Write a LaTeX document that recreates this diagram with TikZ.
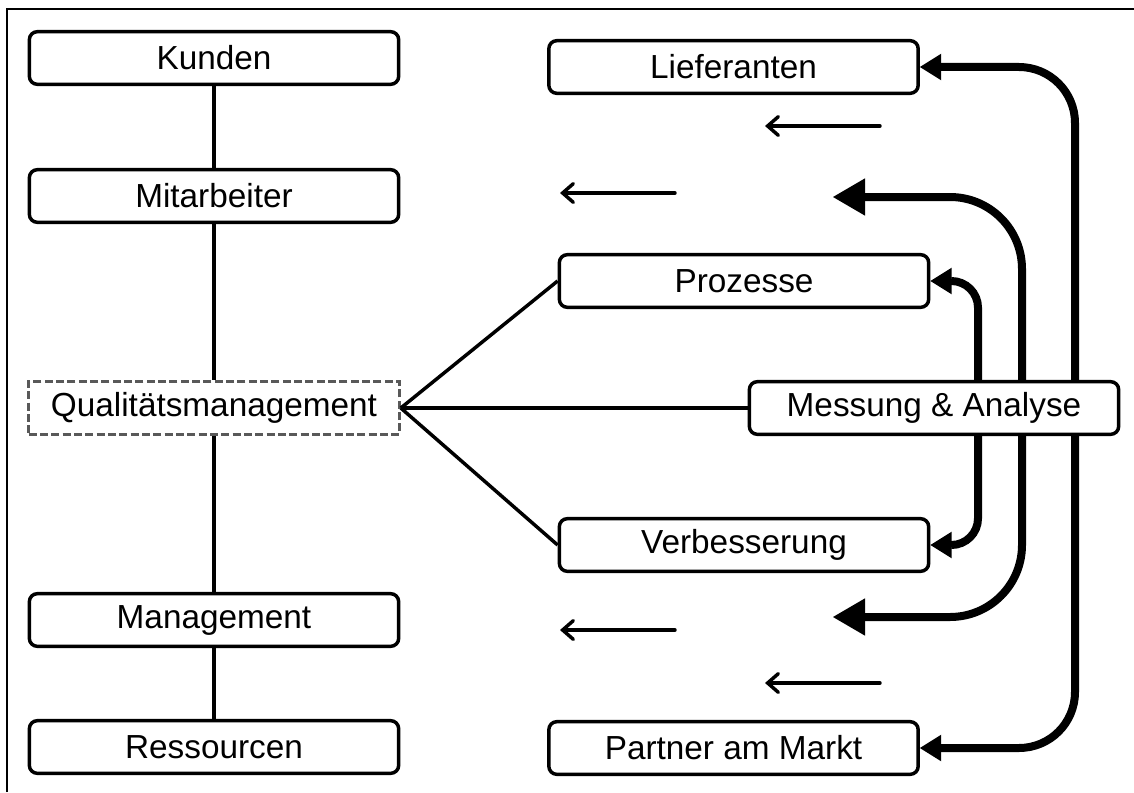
\documentclass[tikz,border=0pt]{standalone}
\usepackage{fontspec}
\setmainfont{Liberation Sans}
\usetikzlibrary{arrows.meta,backgrounds}
\begin{document}
\begin{tikzpicture}[x=0.75pt,y=-0.75pt,
  lbl/.style={font=\fontsize{25}{30}\selectfont},
  stepbox/.style={lbl, draw, fill=white, line width=2.6pt, rounded corners=6pt,
    minimum width=277pt, minimum height=39.5pt, inner sep=0pt},
  qmbox/.style={lbl, draw=black!65, fill=white, line width=2.2pt,
    dash pattern=on 6pt off 2.5pt, minimum width=278pt, minimum height=40pt, inner sep=0pt},
  link/.style={line width=2.6pt},
  flow/.style={line width=2.6pt, line cap=round,
    -{Straight Barb[length=8pt,width=14pt,line cap=round]}},
  loopsmall/.style={line width=6pt,
    {Triangle[length=16pt,width=20pt,line width=0pt]}-{Triangle[length=16pt,width=20pt,line width=0pt]}},
  loopbig/.style={line width=6pt,
    {Triangle[length=24pt,width=28pt,line width=0pt]}-{Triangle[length=24pt,width=28pt,line width=0pt]}},
]
\useasboundingbox (0,0) rectangle (1134,792);

% frame
\draw[line width=1.5pt] (7,792) -- (7,9.5) -- (1134,9.5);

% left column
\node[stepbox] (kunden) at (214,58) {Kunden};
\node[stepbox] (mitarb) at (214,196) {Mitarbeiter};
\node[qmbox]   (qm)     at (214,408) {Qualitätsmanagement};
\node[stepbox] (mgmt)   at (214,620) {Management};
\node[stepbox] (ress)   at (214,747) {Ressourcen};

% right column
\node[stepbox] (lief)    at (733.5,67)  {Lieferanten};
\node[stepbox] (proz)    at (744,281)   {Prozesse};
\node[stepbox] (mess)    at (934,408)   {Messung \& Analyse};
\node[stepbox] (verb)    at (744,545)   {Verbesserung};
\node[stepbox] (partner) at (733.5,748) {Partner am Markt};

% vertical chain
\draw[link] (kunden) -- (mitarb);
\draw[link] (mitarb) -- (qm);
\draw[link] (qm) -- (mgmt);
\draw[link] (mgmt) -- (ress);

% fan from quality management
\draw[link] (qm.east) -- (proz.west);
\draw[link] (qm.east) -- (mess.west);
\draw[link] (qm.east) -- (verb.west);

% thin flow arrows
\coordinate (f1s) at (880,126); \coordinate (f1e) at (765,126);
\coordinate (f2s) at (675,193); \coordinate (f2e) at (560,193);
\coordinate (f3s) at (675,630); \coordinate (f3e) at (560,630);
\coordinate (f4s) at (880,683); \coordinate (f4e) at (765,683);
\draw[flow] (f1s) -- (f1e);
\draw[flow] (f2s) -- (f2e);
\draw[flow] (f3s) -- (f3e);
\draw[flow] (f4s) -- (f4e);

% feedback loops behind the boxes
\coordinate (outer) at (1075,408);
\coordinate (midr)  at (1022,408);
\coordinate (inner) at (978,408);
\coordinate (mtop)  at (833,197);
\coordinate (mbot)  at (833,617);
\begin{scope}[on background layer]
  \draw[loopsmall, rounded corners=42pt] (lief.east) -| (outer) |- (partner.east);
  \draw[loopbig, rounded corners=54pt] (mtop) -| (midr) |- (mbot);
  \draw[loopsmall, rounded corners=20pt] (proz.east) -| (inner) |- (verb.east);
\end{scope}
\end{tikzpicture}
\end{document}
